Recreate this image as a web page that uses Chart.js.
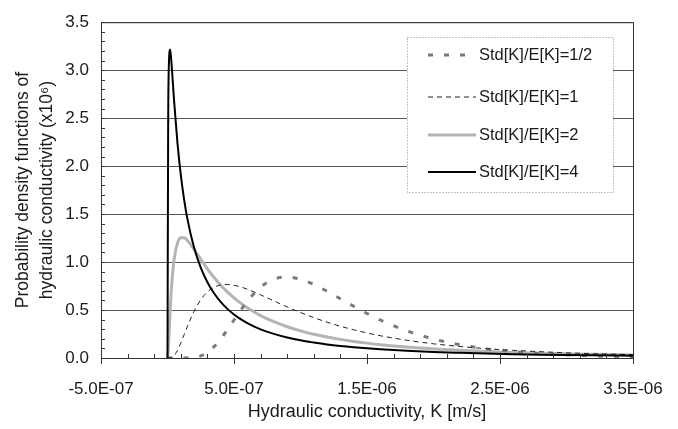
<!DOCTYPE html>
<html lang="en">
<head>
  <meta charset="UTF-8">
  <title>Probability density functions of hydraulic conductivity</title>
  <script src="https://cdn.jsdelivr.net/npm/chart.js"></script>
  <style>
    body { margin: 0; padding: 0; background: #fff; }
    #wrap { width: 678px; height: 429px; }
  </style>
</head>
<body>
  <div id="wrap"><canvas id="pdfChart" width="678" height="429"></canvas></div>
  <script>
    // K values in units of 1E-6 m/s, densities in units of 1E+6
    const kValues = [0, 0.005, 0.01, 0.02, 0.03, 0.05, 0.075, 0.1, 0.125, 0.15, 0.2, 0.25, 0.3, 0.35, 0.4, 0.45, 0.5, 0.55, 0.6, 0.7,
      0.8, 0.9, 1.0, 1.1, 1.2, 1.3, 1.4, 1.5, 1.6, 1.8, 2.0, 2.2, 2.4, 2.6, 2.8, 3.0, 3.2, 3.5];

    const cvHalf = [0, 0, 0, 0, 0, 0, 0, 0, 0, 0.001, 0.006, 0.022, 0.058, 0.118, 0.198, 0.293, 0.396, 0.497, 0.591, 0.738,
      0.821, 0.844, 0.821, 0.767, 0.696, 0.617, 0.539, 0.464, 0.396, 0.282, 0.198, 0.138, 0.095, 0.066, 0.046, 0.032, 0.022, 0.013];
    const cvOne = [0, 0, 0, 0.001, 0.004, 0.025, 0.079, 0.156, 0.243, 0.330, 0.487, 0.607, 0.688, 0.737, 0.761, 0.766, 0.758, 0.741, 0.717, 0.658,
      0.595, 0.532, 0.474, 0.421, 0.373, 0.331, 0.294, 0.261, 0.232, 0.185, 0.148, 0.120, 0.097, 0.080, 0.066, 0.054, 0.045, 0.035];
    const cvTwo = [0, 0.063, 0.206, 0.501, 0.735, 1.029, 1.197, 1.253, 1.253, 1.225, 1.132, 1.029, 0.929, 0.839, 0.759, 0.689, 0.627, 0.572, 0.523, 0.442,
      0.378, 0.326, 0.283, 0.248, 0.219, 0.194, 0.173, 0.155, 0.139, 0.114, 0.095, 0.080, 0.068, 0.058, 0.050, 0.044, 0.038, 0.032];
    const cvFour = [0, 2.423, 3.038, 3.216, 3.073, 2.672, 2.240, 1.908, 1.651, 1.448, 1.149, 0.942, 0.790, 0.675, 0.585, 0.512, 0.454, 0.405, 0.364, 0.299,
      0.251, 0.214, 0.184, 0.161, 0.141, 0.125, 0.112, 0.101, 0.091, 0.075, 0.063, 0.054, 0.046, 0.040, 0.035, 0.031, 0.028, 0.024];

    const seriesLabels = ['Std[K]/E[K]=1/2', 'Std[K]/E[K]=1', 'Std[K]/E[K]=2', 'Std[K]/E[K]=4'];
    const xTicks = [-0.5, 0.5, 1.5, 2.5, 3.5];
    const yTicks = [0, 0.5, 1, 1.5, 2, 2.5, 3, 3.5];

    const txt = '#1a1a1a';
    const font = 'Liberation Sans, Arial, sans-serif';

    function toPoints(vals) {
      return kValues.map((k, i) => ({ x: k, y: vals[i] }));
    }

    function fmtK(v) {
      const parts = (v * 1e-6).toExponential(1).split('e');
      const e = parseInt(parts[1], 10);
      const sign = e < 0 ? '-' : '+';
      return parts[0] + 'E' + sign + String(Math.abs(e)).padStart(2, '0');
    }

    // tick marks, frame and the boxed legend
    const decor = {
      id: 'decor',
      afterDatasetsDraw(chart) {
        const { ctx, chartArea: a, scales: { x, y } } = chart;
        ctx.save();
        ctx.strokeStyle = '#333';
        ctx.lineWidth = 1;
        ctx.strokeRect(a.left + 0.5, a.top + 0.5, a.right - a.left, a.bottom - a.top);

        ctx.beginPath();
        for (let v = 0; v <= 3.5001; v += 0.1) {
          const py = Math.round(y.getPixelForValue(v)) + 0.5;
          ctx.moveTo(a.left, py);
          ctx.lineTo(a.left + 4, py);
        }
        for (let v = -0.5; v <= 3.5001; v += 0.2) {
          const px = Math.round(x.getPixelForValue(v)) + 0.5;
          ctx.moveTo(px, a.bottom);
          ctx.lineTo(px, a.bottom - 4);
        }
        xTicks.forEach(v => {
          const px = Math.round(x.getPixelForValue(v)) + 0.5;
          ctx.moveTo(px, a.bottom - 4);
          ctx.lineTo(px, a.bottom + 6);
        });
        ctx.stroke();

        // legend
        const bx = 407, by = 37, bw = 206, bh = 155;
        ctx.fillStyle = '#fff';
        ctx.fillRect(bx, by, bw, bh);
        ctx.setLineDash([1, 2]);
        ctx.strokeStyle = '#888';
        ctx.strokeRect(bx + 0.5, by + 0.5, bw, bh);
        const rows = [55, 97, 135, 172];
        ctx.font = '16.5px ' + font;
        ctx.textBaseline = 'middle';
        chart.data.datasets.forEach((ds, i) => {
          ctx.save();
          ctx.strokeStyle = ds.borderColor;
          ctx.lineWidth = ds.borderWidth;
          ctx.setLineDash(ds.borderDash || []);
          ctx.beginPath();
          ctx.moveTo(428, rows[i]);
          ctx.lineTo(476, rows[i]);
          ctx.stroke();
          ctx.restore();
          ctx.fillStyle = txt;
          ctx.fillText(ds.label, 479, rows[i]);
        });
        ctx.restore();
      }
    };

    new Chart(document.getElementById('pdfChart'), {
      type: 'line',
      data: {
        datasets: [
          {
            label: seriesLabels[0],
            data: toPoints(cvHalf),
            borderColor: '#7a7a7a',
            borderWidth: 3,
            borderDash: [5, 11],
            order: 2
          },
          {
            label: seriesLabels[1],
            data: toPoints(cvOne),
            borderColor: '#222',
            borderWidth: 1,
            borderDash: [5, 4],
            order: 1
          },
          {
            label: seriesLabels[2],
            data: toPoints(cvTwo),
            borderColor: '#b4b4b4',
            borderWidth: 3,
            order: 3
          },
          {
            label: seriesLabels[3],
            data: toPoints(cvFour),
            borderColor: '#000',
            borderWidth: 2,
            order: 0
          }
        ]
      },
      options: {
        responsive: false,
        animation: false,
        devicePixelRatio: 1,
        layout: { padding: { left: 0, right: 45, top: 14, bottom: 0 } },
        elements: {
          point: { radius: 0 },
          line: { cubicInterpolationMode: 'monotone', fill: false }
        },
        plugins: {
          legend: { display: false },
          tooltip: { enabled: false }
        },
        scales: {
          x: {
            type: 'linear',
            min: -0.5,
            max: 3.5,
            afterBuildTicks: scale => { scale.ticks = xTicks.map(v => ({ value: v })); },
            afterFit: scale => { scale.height = 71; },
            grid: { display: false },
            border: { display: false },
            ticks: {
              color: txt,
              font: { family: font, size: 17 },
              padding: 13,
              maxRotation: 0,
              autoSkip: false,
              callback: v => fmtK(v)
            },
            title: {
              display: true,
              text: 'Hydraulic conductivity, K [m/s]',
              color: txt,
              font: { family: font, size: 18 },
              padding: { top: 0, bottom: 6 }
            }
          },
          y: {
            min: 0,
            max: 3.5,
            afterBuildTicks: scale => { scale.ticks = yTicks.map(v => ({ value: v })); },
            afterFit: scale => { scale.width = 101; },
            grid: { color: '#555', lineWidth: 1, drawTicks: false },
            border: { display: false },
            ticks: {
              color: txt,
              font: { family: font, size: 17 },
              padding: 12,
              callback: v => v.toFixed(1)
            },
            title: {
              display: true,
              text: ['Probability density functions of', 'hydraulic conductivity (x10\u2076)'],
              color: txt,
              font: { family: font, size: 17.5, lineHeight: 1.37 },
              padding: { top: 11, bottom: 0 }
            }
          }
        }
      },
      plugins: [decor]
    });
  </script>
</body>
</html>
